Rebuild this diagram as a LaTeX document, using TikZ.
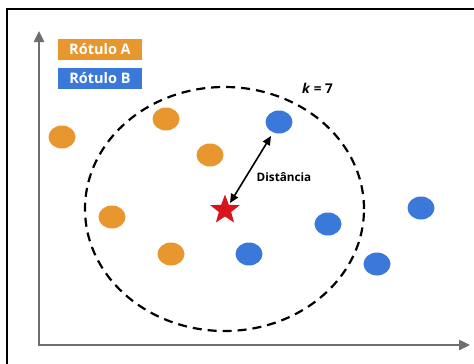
\documentclass[tikz,border=0pt]{standalone}
\usepackage{fontspec}
\setmainfont{Open Sans}
\usetikzlibrary{arrows.meta,shapes.geometric}
\definecolor{orA}{HTML}{E8962E}
\definecolor{blB}{HTML}{3A78DA}
\definecolor{axg}{HTML}{6E6E6E}
\definecolor{starred}{HTML}{D9141E}
\begin{document}
\begin{tikzpicture}[x=1pt,y=-1pt,
  dotA/.style={ellipse,fill=orA,minimum width=27pt,minimum height=23pt,inner sep=0pt},
  dotB/.style={ellipse,fill=blB,minimum width=27pt,minimum height=23pt,inner sep=0pt},
  legbox/.style={minimum width=84pt,minimum height=21pt,inner sep=0pt,text=white,font=\fontsize{14.5}{15}\selectfont\bfseries},
  axis/.style={draw=axg,line width=2.4pt,-{Triangle[length=11pt,width=10pt]}},
  lbl/.style={font=\fontsize{11.7}{13}\selectfont\bfseries,text=black}]
\useasboundingbox (0,0) rectangle (474,364);
\begin{scope}
\clip (0,0) rectangle (474,364);
\draw[line width=1.2pt] (7,9) rectangle (490,380);
\end{scope}
% axes
\coordinate (ytip) at (39,31);
\coordinate (xtip) at (470,345);
\draw[axis] (39,346.2) -- (ytip);
\draw[axis] (37.8,345) -- (xtip);
% legend
\node[legbox,fill=orA] (legA) at (100,49.5) {Rótulo A};
\node[legbox,fill=blB] (legB) at (100,78.5) {Rótulo B};
% circle
\node[draw=black,dashed,dash pattern=on 9pt off 6pt,line width=2.2pt,ellipse,minimum width=279pt,minimum height=244pt,inner sep=0pt] (circ) at (224.5,209) {};
\node[font=\fontsize{13.5}{15}\selectfont\bfseries] (k) at (317.5,88) {\textit{k} = 7};
% points
\node[dotA] (a1) at (62,137) {};
\node[dotA] (a2) at (166,119) {};
\node[dotA] (a3) at (210,155) {};
\node[dotA] (a4) at (112,217) {};
\node[dotA] (a5) at (171,254) {};
\node[dotB] (b1) at (279,122) {};
\node[dotB] (b2) at (328,224) {};
\node[dotB] (b3) at (421,208) {};
\node[dotB] (b4) at (249,254) {};
\node[dotB] (b5) at (377,264) {};
% star
\node[star,star points=5,star point ratio=2.4,fill=starred,minimum size=31pt,inner sep=0pt] (st) at (225,210) {};
% distance
\coordinate (d1) at (230,203);
\coordinate (d2) at (271,136);
\draw[line width=1.6pt,{Triangle[length=9pt,width=8pt]}-{Triangle[length=9pt,width=8pt]}] (d1) -- (d2);
\node[lbl] (dist) at (284,177) {Distância};
\end{tikzpicture}
\end{document}
